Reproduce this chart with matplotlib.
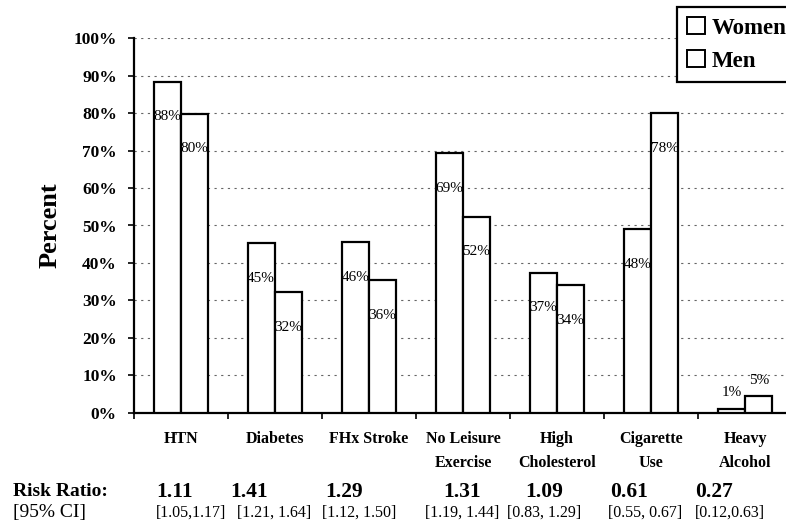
import matplotlib
matplotlib.use('Agg')
import matplotlib.pyplot as plt
from matplotlib.patches import Patch
import numpy as np

# values
categories = ['HTN', 'Diabetes', 'FHx Stroke', 'No Leisure\nExercise',
              'High\nCholesterol', 'Cigarette\nUse', 'Heavy\nAlcohol']
women = [88.4, 45.2, 45.6, 69.3, 37.4, 49.0, 1.1]
men = [79.9, 32.2, 35.4, 52.4, 34.0, 80.0, 4.5]
women_labels = ['88%', '45%', '46%', '69%', '37%', '48%', '1%']
men_labels = ['80%', '32%', '36%', '52%', '34%', '78%', '5%']
risk_ratio = ['1.11', '1.41', '1.29', '1.31', '1.09', '0.61', '0.27']
ci = ['[1.05,1.17]', '[1.21, 1.64]', '[1.12, 1.50]', '[1.19, 1.44]',
      '[0.83, 1.29]', '[0.55, 0.67]', '[0.12,0.63]']

# left edges (pixels) of the table text under the axis
rr_x = [156, 230, 325, 443, 525, 610, 695]
ci_x = [156, 237, 322, 425, 507, 608, 695]

plt.rcParams['font.family'] = ['Liberation Serif', 'DejaVu Serif']

W, H = 786, 527
fig = plt.figure(figsize=(W / 100, H / 100), dpi=100)
ax = fig.add_axes([133.5 / W, 1 - 412.7 / H, 658.9 / W, 374.4 / H])

x = np.arange(len(categories)) + 0.5
bw = 0.287
ax.bar(x - bw, women, width=bw, align='edge', facecolor='white',
       edgecolor='black', linewidth=1.6, zorder=3)
ax.bar(x, men, width=bw, align='edge', facecolor='white',
       edgecolor='black', linewidth=1.6, zorder=3)

for xi, v, lab in zip(x - bw / 2, women, women_labels):
    y = v + 4.2 if v < 10 else v - 9.4
    ax.text(xi, y, lab, ha='center', va='center', fontsize=11, zorder=4)
for xi, v, lab in zip(x + bw / 2, men, men_labels):
    y = v + 4.2 if v < 10 else v - 9.4
    ax.text(xi, y, lab, ha='center', va='center', fontsize=11, zorder=4)

ax.set_xlim(0, 7)
ax.set_ylim(0, 100)
ax.set_yticks(np.arange(0, 101, 10))
ax.set_yticklabels([f'{t}%' for t in range(0, 101, 10)],
                   fontsize=12.5, fontweight='bold')
ax.set_xticks(np.arange(0, 7))
ax.set_xticklabels([])
ax.set_xticks(x, minor=True)
ax.set_xticklabels(categories, minor=True, fontsize=11.5, fontweight='bold',
                   linespacing=1.65)
ax.tick_params(axis='x', which='minor', length=0, pad=13)
ax.tick_params(axis='both', which='major', length=4, width=1.2,
               direction='out', pad=8)

for sp in ['top', 'right']:
    ax.spines[sp].set_visible(False)
for sp in ['left', 'bottom']:
    ax.spines[sp].set_linewidth(1.6)

ax.yaxis.grid(True, linestyle=(0, (2, 4)), color='#666666', linewidth=0.8)
ax.set_axisbelow(True)

ax.set_ylabel('Percent', fontsize=19, fontweight='bold')
ax.yaxis.set_label_coords(-0.1085, 0.5)

handles = [Patch(facecolor='white', edgecolor='black', linewidth=1.4),
           Patch(facecolor='white', edgecolor='black', linewidth=1.4)]
leg = fig.legend(handles, ['Women', 'Men'], loc='upper left',
                 bbox_to_anchor=(677 / W, 1 - 7 / H), borderaxespad=0,
                 prop={'size': 16.5, 'weight': 'bold'}, fancybox=False,
                 edgecolor='black', framealpha=1, handlelength=0.75,
                 handleheight=0.75, handletextpad=0.3, labelspacing=0.5,
                 borderpad=0.45)
leg.get_frame().set_linewidth(1.6)

fig.text(13 / W, 1 - 492 / H, 'Risk Ratio:', fontsize=14, fontweight='bold',
         va='center')
fig.text(13 / W, 1 - 513 / H, '[95% CI]', fontsize=14, va='center')
for px, t in zip(rr_x, risk_ratio):
    fig.text(px / W, 1 - 492 / H, t, fontsize=15.5, fontweight='bold',
             va='center')
for px, t in zip(ci_x, ci):
    fig.text(px / W, 1 - 513 / H, t, fontsize=11.5, va='center')

fig.savefig('out.png', dpi=100)
